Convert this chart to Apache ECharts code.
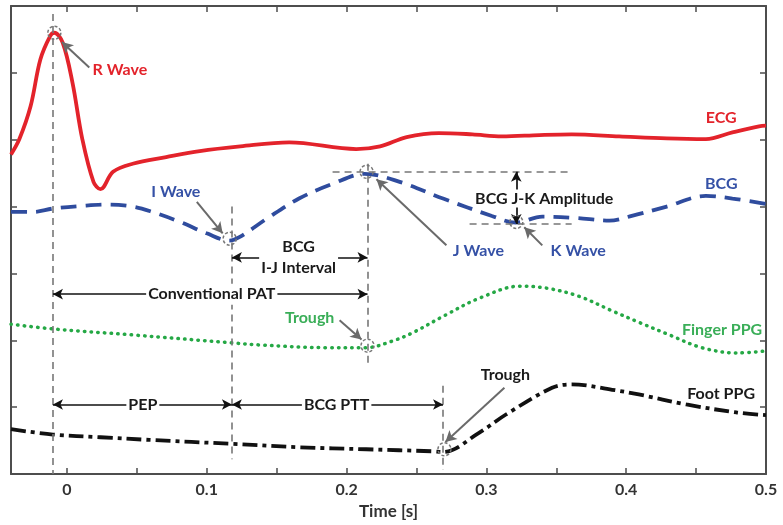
<!DOCTYPE html>
<html><head><meta charset="utf-8">
<script src="https://cdn.jsdelivr.net/npm/echarts@6/dist/echarts.min.js"></script>
<style>html,body{margin:0;padding:0;background:#fff}#c{width:783px;height:525px}</style>
</head><body><div id="c"></div>
<script>
// ---- axis ticks ----
const xTicks = [0, 0.05, 0.1, 0.15, 0.2, 0.25, 0.3, 0.35, 0.4, 0.45, 0.5];
const xLabels = [0, 0.1, 0.2, 0.3, 0.4, 0.5];
const yTicks = [1, 2, 3, 4, 5, 6];

// ---- ECG ----
const ecgT = [-0.04,-0.034,-0.026,-0.019,-0.012,-0.009,-0.003,0.004,0.011,0.019,0.024,0.033,0.047,0.071,0.095,0.124,0.159,0.207,0.224,0.243,0.266,0.29,0.311,0.338,0.361,0.395,0.429,0.457,0.476,0.495,0.5];
const ecgY = [4.78,5.01,5.50,6.20,6.55,6.60,6.45,5.85,5.01,4.37,4.26,4.52,4.64,4.74,4.83,4.90,4.96,4.86,4.90,5.04,5.10,5.08,5.05,5.07,5.08,5.05,5.02,5.01,5.11,5.20,5.21];
// ---- BCG ----
const bcgT = [-0.04,-0.024,-0.01,0.011,0.029,0.047,0.061,0.081,0.1,0.116,0.124,0.143,0.166,0.19,0.213,0.238,0.269,0.304,0.321,0.34,0.364,0.388,0.404,0.429,0.457,0.476,0.5];
const bcgY = [3.92,3.92,3.97,4.01,4.03,4.00,3.92,3.77,3.60,3.49,3.55,3.82,4.12,4.34,4.49,4.37,4.12,3.86,3.76,3.85,3.83,3.79,3.86,4.00,4.16,4.12,4.04];
// ---- Finger PPG ----
const fingerT = [-0.04,-0.01,0.047,0.119,0.138,0.186,0.214,0.233,0.247,0.271,0.295,0.324,0.343,0.366,0.39,0.409,0.431,0.454,0.479,0.5];
const fingerY = [2.24,2.17,2.08,1.96,1.93,1.89,1.89,1.99,2.11,2.38,2.63,2.81,2.78,2.66,2.44,2.27,2.08,1.89,1.81,1.84];
// ---- Foot PPG ----
const footT = [-0.04,-0.01,0.024,0.059,0.119,0.166,0.214,0.261,0.269,0.295,0.314,0.347,0.361,0.39,0.409,0.443,0.479,0.5];
const footY = [0.67,0.59,0.55,0.51,0.45,0.40,0.37,0.34,0.33,0.62,0.89,1.29,1.34,1.26,1.19,1.04,0.92,0.88];

// ---- annotations (time, amplitude) ----
const eventLines = [[-0.01, 6.88, 0], [0.118, 4.0, 0.22], [0.215, 4.64, 1.63], [0.269, 1.32, 0.06]]; // t, yTop, yBottom
const levelLines = [[4.52, 0.19, 0.361], [3.74, 0.288, 0.361]]; // y, t1, t2
const intervalNames = ['Conventional PAT', 'PEP', 'BCG PTT', 'BCG\nI-J Interval'];
const intervalSpans = [[-0.01, 0.215, 2.69, 0.1036], [-0.01, 0.118, 1.04, 0.0543], [0.118, 0.269, 1.04, 0.1929], [0.118, 0.215, 3.24, 0.1657]]; // t1, t2, y, labelT
const ampName = 'BCG J-K Amplitude';
const ampSpan = [0.3214, 4.52, 3.74, 0.3414, 4.12]; // t, y1, y2, labelT, labelY
const pointers = [[0.016,6.08,-0.0036,6.46],[0.0929,4.07,0.1114,3.60],[0.2714,3.42,0.2214,4.41],[0.34,3.42,0.3271,3.69],[0.195,2.30,0.2107,2.01],[0.3129,1.29,0.2707,0.48]];
const circles = [[-0.009,6.6],[0.1164,3.52],[0.2143,4.52],[0.3214,3.77],[0.215,1.92],[0.27,0.37]];
const labelTexts = ['R Wave','ECG','I Wave','BCG','J Wave','K Wave','Trough','Finger PPG','Trough','Foot PPG'];
const labelPos = [[0.0379,6.05],[0.468,5.32],[0.0779,4.22],[0.468,4.34],[0.2943,3.34],[0.3657,3.34],[0.1736,2.33],[0.4686,2.15],[0.3136,1.49],[0.4679,1.20]];
const labelSeries = [0,0,1,1,1,1,2,2,3,3];

const RED = '#e3232b', BLUE = '#2f4c9e', BLUE_T = '#3551a6', GREEN = '#25a845', GREEN_T = '#3aae58', BLACK = '#111';
const textColors = [RED, BLUE_T, GREEN_T, '#1a1a1a'];
const FONT = 'Lato';
const zip = (a, b) => a.map((v, i) => [v, b[i]]);

const markLineData = [];
eventLines.forEach(l => markLineData.push([
  {coord: [l[0], l[1]], symbol: 'none', lineStyle: {color: '#777', width: 1.6, type: [7, 5]}},
  {coord: [l[0], l[2]], symbol: 'none'}]));
levelLines.forEach(l => markLineData.push([
  {coord: [l[1], l[0]], symbol: 'none', lineStyle: {color: '#777', width: 1.6, type: [7, 5]}},
  {coord: [l[2], l[0]], symbol: 'none'}]));
intervalSpans.forEach(s => markLineData.push([
  {coord: [s[0], s[2]], symbol: 'arrow', symbolSize: [8, 10], lineStyle: {color: '#111', width: 1.7, type: 'solid'}},
  {coord: [s[1], s[2]], symbol: 'arrow', symbolSize: [8, 10]}]));
markLineData.push([
  {coord: [ampSpan[0], ampSpan[1]], symbol: 'arrow', symbolSize: [8, 10], lineStyle: {color: '#111', width: 1.7, type: 'solid'}},
  {coord: [ampSpan[0], ampSpan[2]], symbol: 'arrow', symbolSize: [8, 10]}]);
pointers.forEach(p => markLineData.push([
  {coord: [p[0], p[1]], symbol: 'none', lineStyle: {color: '#6a6a6a', width: 2, type: 'solid'}},
  {coord: [p[2], p[3]], symbol: 'arrow', symbolSize: [9, 11]}]));

const textStyleBase = {fontFamily: FONT, fontWeight: 'bold', fontSize: 16};
const markPointData = [];
circles.forEach(c => markPointData.push({coord: c, symbol: 'circle', symbolSize: 13,
  itemStyle: {color: 'rgba(0,0,0,0)', borderColor: '#777', borderWidth: 1.5, borderType: [3, 2]}, label: {show: false}}));
labelTexts.forEach((t, i) => markPointData.push({coord: labelPos[i], symbol: 'rect', symbolSize: 1,
  itemStyle: {color: 'rgba(0,0,0,0)'},
  label: Object.assign({show: true, position: 'inside', formatter: t, color: textColors[labelSeries[i]]}, textStyleBase)}));
intervalNames.forEach((n, i) => markPointData.push({coord: [intervalSpans[i][3], intervalSpans[i][2]], symbol: 'rect', symbolSize: 1,
  itemStyle: {color: 'rgba(0,0,0,0)'},
  label: Object.assign({show: true, position: 'inside', formatter: n, color: '#1a1a1a', backgroundColor: '#fff', padding: [0, 2], lineHeight: 21, align: 'center'}, textStyleBase)}));
markPointData.push({coord: [ampSpan[3], ampSpan[4]], symbol: 'rect', symbolSize: 1, itemStyle: {color: 'rgba(0,0,0,0)'},
  label: Object.assign({show: true, position: 'inside', formatter: ampName, color: '#1a1a1a', backgroundColor: '#fff', padding: [1, 2]}, textStyleBase)});

const axisLineStyle = {color: '#4d4d4d', width: 2};
const option = {
  animation: false,
  backgroundColor: '#fff',
  grid: {left: 11, right: 17, top: 6, bottom: 48, containLabel: false},
  xAxis: [{
    type: 'value', min: -0.04, max: 0.5, position: 'bottom',
    name: 'Time [s]', nameLocation: 'middle', nameGap: 29,
    nameTextStyle: {fontFamily: FONT, fontWeight: 'bold', fontSize: 17, color: '#333'},
    axisLine: {onZero: false, lineStyle: axisLineStyle},
    axisTick: {inside: true, length: 6, customValues: xTicks, lineStyle: {color: '#4d4d4d', width: 1.5}},
    axisLabel: {customValues: xLabels, margin: 8, fontFamily: FONT, fontWeight: 'bold', fontSize: 16, color: '#333',
      formatter: v => String(Math.round(v * 10) / 10)},
    splitLine: {show: false}
  }, {
    type: 'value', min: -0.04, max: 0.5, position: 'top',
    axisLine: {onZero: false, lineStyle: axisLineStyle},
    axisTick: {inside: true, length: 6, customValues: xTicks, lineStyle: {color: '#4d4d4d', width: 1.5}},
    axisLabel: {show: false}, splitLine: {show: false}
  }],
  yAxis: [{
    type: 'value', min: 0, max: 7, position: 'left',
    axisLine: {show: true, onZero: false, lineStyle: axisLineStyle},
    axisTick: {show: true, inside: true, length: 6, customValues: yTicks, lineStyle: {color: '#4d4d4d', width: 1.5}},
    axisLabel: {show: false}, splitLine: {show: false}
  }, {
    type: 'value', min: 0, max: 7, position: 'right',
    axisLine: {show: true, onZero: false, lineStyle: axisLineStyle},
    axisTick: {show: true, inside: true, length: 6, customValues: yTicks, lineStyle: {color: '#4d4d4d', width: 1.5}},
    axisLabel: {show: false}, splitLine: {show: false}
  }],
  series: [
    {type: 'line', name: 'annotations', data: [], silent: true, z: 1,
      markLine: {silent: true, animation: false, label: {show: false}, symbol: ['none', 'none'], data: markLineData}},
    {type: 'line', name: 'ECG', data: zip(ecgT, ecgY), smooth: 0.35, showSymbol: false, z: 3,
      lineStyle: {color: RED, width: 3.8}},
    {type: 'line', name: 'BCG', data: zip(bcgT, bcgY), smooth: 0.35, showSymbol: false, z: 3,
      lineStyle: {color: BLUE, width: 3.8, type: [16, 9]}},
    {type: 'line', name: 'Finger PPG', data: zip(fingerT, fingerY), smooth: 0.35, showSymbol: false, z: 3,
      lineStyle: {color: GREEN, width: 3.5, type: [0.5, 6.2], cap: 'round'}},
    {type: 'line', name: 'Foot PPG', data: zip(footT, footY), smooth: 0.35, showSymbol: false, z: 3,
      lineStyle: {color: BLACK, width: 3.8, type: [15, 5, 4, 5]}},
    {type: 'line', name: 'labels', data: [], silent: true, z: 10,
      markPoint: {silent: true, animation: false, data: markPointData}}
  ]
};
const chart = echarts.init(document.getElementById('c'));
chart.setOption(option);
</script></body></html>
